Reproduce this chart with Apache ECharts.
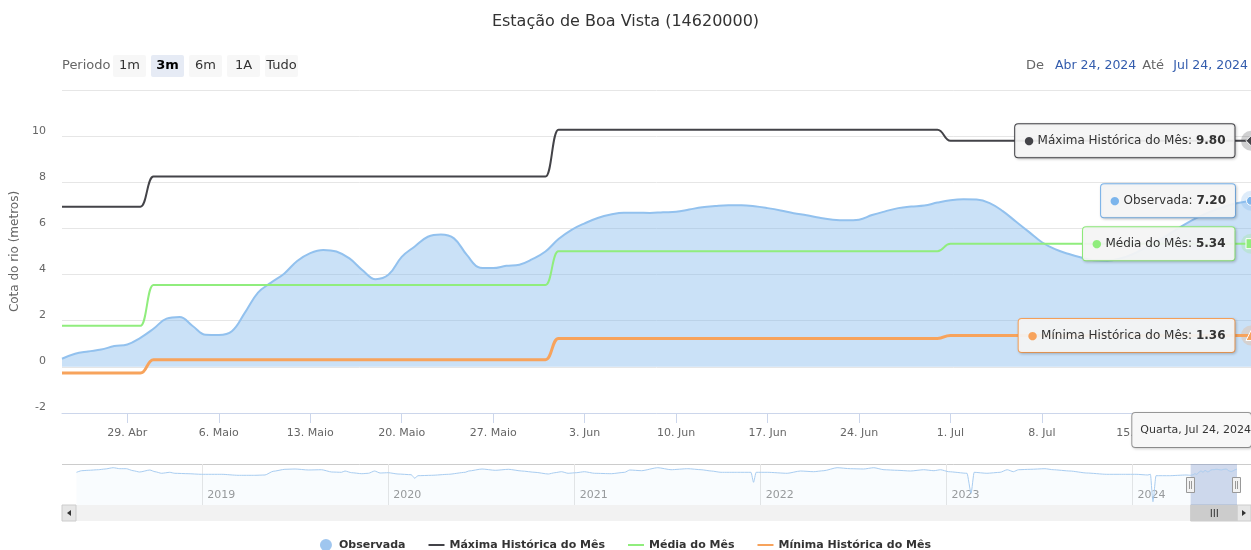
<!DOCTYPE html>
<html><head><meta charset="utf-8">
<script src="https://cdn.jsdelivr.net/npm/echarts@6/dist/echarts.min.js"></script>
<style>html,body{margin:0;padding:0;background:#fff}#c{width:1251px;height:550px}</style>
</head><body><div id="c"></div>
<script>
// ---------------- DATA ----------------
const chartTitle = 'Estação de Boa Vista (14620000)';
const startDay = [2024, 3, 24]; // 24 Apr 2024 (first daily value)
const observada = [0.35,0.57,0.67,0.75,0.90,0.97,1.26,1.65,2.09,2.16,1.77,1.39,1.38,1.54,2.35,3.22,3.65,4.04,4.59,4.93,
  5.07,5.00,4.70,4.19,3.80,4.00,4.77,5.22,5.64,5.74,5.57,4.84,4.30,4.28,4.38,4.43,4.67,5.00,5.54,5.94,
  6.22,6.45,6.60,6.68,6.68,6.67,6.70,6.72,6.82,6.92,6.97,7.00,7.00,6.96,6.88,6.78,6.66,6.57,6.46,6.38,
  6.35,6.38,6.58,6.74,6.88,6.95,6.99,7.12,7.22,7.26,7.25,7.10,6.75,6.30,5.85,5.40,5.10,4.90,4.74,4.62,
  4.60,4.70,4.90,5.20,5.50,5.85,6.20,6.50,6.75,6.95,7.10,7.20];
const months = ['2024-04','2024-05','2024-06','2024-07'];
const maximaMes = [6.94, 8.25, 10.28, 9.80];
const mediaMes  = [1.78, 3.55, 5.01, 5.34];
const minimaMes = [-0.27, 0.31, 1.23, 1.36];
const tickDates  = ['2024-04-29','2024-05-06','2024-05-13','2024-05-20','2024-05-27','2024-06-03','2024-06-10','2024-06-17','2024-06-24','2024-07-01','2024-07-08','2024-07-15','2024-07-22'];
const tickLabels = ['29. Abr','6. Maio','13. Maio','20. Maio','27. Maio','3. Jun','10. Jun','17. Jun','24. Jun','1. Jul','8. Jul','15. Jul','22. Jul'];
const navYears = ['2019-01-01','2020-01-01','2021-01-01','2022-01-01','2023-01-01','2024-01-01'];
const navYearLabels = ['2019','2020','2021','2022','2023','2024'];
const navStart = '2018-04-28';
const navDates = ['2018-04-29','2018-05-09','2018-05-22','2018-06-11','2018-06-24','2018-07-10','2018-07-23','2018-08-05','2018-08-18','2018-08-31','2018-09-20','2018-09-30','2018-10-13','2018-10-29','2018-11-08','2018-12-04','2018-12-30',
 '2019-02-08','2019-03-12','2019-04-14','2019-05-04','2019-05-20','2019-06-12','2019-07-02','2019-07-28','2019-08-23','2019-09-12','2019-10-01','2019-10-08','2019-10-21','2019-11-10','2019-11-23','2019-12-05','2019-12-16',
 '2020-01-01','2020-01-20','2020-02-15','2020-02-22','2020-02-28','2020-03-26','2020-04-28','2020-05-31','2020-06-07','2020-07-03','2020-07-29','2020-08-24','2020-09-19','2020-10-15','2020-11-10','2020-11-23','2020-12-06','2020-12-19',
 '2021-01-04','2021-01-20','2021-02-09','2021-03-14','2021-04-09','2021-04-19','2021-05-12','2021-06-13','2021-07-09','2021-08-11','2021-09-06','2021-09-26','2021-10-15','2021-11-17','2021-12-13','2021-12-18','2021-12-23',
 '2022-01-14','2022-02-22','2022-03-20','2022-04-15','2022-05-05','2022-05-31','2022-06-26','2022-07-22','2022-08-11','2022-08-31','2022-09-26','2022-10-22','2022-11-17','2022-12-07','2022-12-20',
 '2023-01-05','2023-02-10','2023-02-18','2023-02-24','2023-03-21','2023-04-16','2023-04-30','2023-05-12','2023-05-22','2023-06-14','2023-07-13','2023-07-29','2023-08-31','2023-10-03','2023-11-11','2023-12-07',
 '2024-01-08','2024-01-31','2024-02-05','2024-02-10','2024-02-16','2024-03-13','2024-04-15'];
const navValues = [3.69,5.48,5.93,6.60,7.39,8.85,7.73,7.73,5.48,4.02,6.27,4.36,2.57,3.69,2.57,2.12,1.44,
 1.44,0.32,0.32,0.66,4.81,7.05,7.39,6.27,6.60,4.02,3.69,5.14,3.24,2.12,2.57,5.14,2.90,
 3.24,1.77,0.99,-3.05,-0.13,0.32,1.44,3.69,5.14,7.39,5.93,7.05,5.14,3.69,1.77,3.24,4.36,2.57,
 3.24,4.36,2.57,2.12,3.69,6.27,5.48,8.85,6.60,7.73,6.60,5.14,3.69,3.69,3.69,-7.53,3.69,
 3.69,2.57,5.14,4.36,5.48,8.85,7.73,7.39,8.85,6.60,5.93,5.14,6.60,5.48,6.60,
 4.36,2.57,-19.9,3.69,2.57,3.69,6.60,4.36,6.60,7.05,7.73,6.60,5.14,2.90,1.44,1.44,
 1.44,0.66,1.44,-29.3,-0.13,-0.13,0.66];
const rangeButtons = ['1m','3m','6m','1A','Tudo'];
const selectedButton = '3m';
const weekdays = ['Domingo','Segunda','Terça','Quarta','Quinta','Sexta','Sábado'];
const monthAbbr = ['Jan','Fev','Mar','Abr','Mai','Jun','Jul','Ago','Set','Out','Nov','Dez'];
const seriesNames = ['Observada','Máxima Histórica do Mês','Média do Mês','Mínima Histórica do Mês'];

// ---------------- BUILD ----------------
const ts = s => { const p = s.split('-').map(Number); return Date.UTC(p[0], p[1]-1, p[2]); };
const days = observada.map((_, i) => Date.UTC(startDay[0], startDay[1], startDay[2] + i));
const monthKey = t => { const d = new Date(t); return d.getUTCFullYear() + '-' + String(d.getUTCMonth()+1).padStart(2,'0'); };
const stepData = arr => days.map(t => [t, arr[months.indexOf(monthKey(t))]]);
const obsData = days.map((t, i) => [t, observada[i]]);
const firstT = days[0], lastT = days[days.length-1];
const fmtDate = t => { const d = new Date(t); return monthAbbr[d.getUTCMonth()] + ' ' + d.getUTCDate() + ', ' + d.getUTCFullYear(); };
const tickTs = tickDates.map(ts);
const tickMap = {}; tickTs.forEach((t, i) => tickMap[t] = tickLabels[i]);
const yearTs = navYears.map(ts);
const yearMap = {}; yearTs.forEach((t, i) => yearMap[t] = navYearLabels[i]);
const navData = navDates.map((d, i) => [ts(d), navValues[i]]).concat(obsData);

const FONT = 'DejaVu Sans';
const colors = ['#7cb5ec', '#434348', '#90ed7d', '#f7a35c'];
const symbols = ['circle', 'diamond', 'rect', 'triangle'];
const lastVals = [observada[observada.length-1], maximaMes[maximaMes.length-1], mediaMes[mediaMes.length-1], minimaMes[minimaMes.length-1]];
const lineIcon = 'path://M0,0M0,5h16v2h-16zM16,12';

function tipMark(i) {
  const c = colors[i];
  return {
    silent: true, animation: false,
    data: [
      { coord: [lastT, lastVals[i]], symbol: 'circle', symbolSize: 20,
        itemStyle: { color: c, opacity: 0.25 }, label: { show: false } },
      { coord: [lastT, lastVals[i]], symbol: symbols[i], symbolSize: i === 0 ? 9 : 10,
        itemStyle: { color: c, borderColor: '#fff', borderWidth: 1, opacity: 1 },
        label: {
          show: true, position: 'left', distance: 11,
          formatter: '{d|●} {t|' + seriesNames[i] + ': }{b|' + lastVals[i].toFixed(2) + '}',
          backgroundColor: 'rgba(247,247,247,0.92)', borderColor: c, borderWidth: 1, borderRadius: 3,
          padding: [11, 9, 10, 9],
          shadowColor: 'rgba(0,0,0,0.18)', shadowBlur: 3, shadowOffsetX: 1, shadowOffsetY: 1,
          rich: {
            d: { color: c, fontSize: 11, fontFamily: FONT },
            t: { color: '#333', fontSize: 12, fontFamily: FONT },
            b: { color: '#333', fontSize: 12, fontWeight: 'bold', fontFamily: FONT }
          }
        } }
    ]
  };
}

const chart = echarts.init(document.getElementById('c'), null, { renderer: 'canvas' });

const option = {
  animation: false,
  backgroundColor: '#fff',
  textStyle: { fontFamily: FONT },
  title: { text: chartTitle, left: 'center', top: 9,
    textStyle: { fontSize: 16, fontWeight: 'normal', color: '#333', fontFamily: FONT } },
  legend: {
    top: 534, left: 'center', itemGap: 23, itemWidth: 16, itemHeight: 12,
    textStyle: { fontSize: 11, fontWeight: 'bold', color: '#333', fontFamily: FONT },
    data: [
      { name: seriesNames[0], icon: 'circle', itemStyle: { color: '#9fc6ef' } },
      { name: seriesNames[1], icon: lineIcon, itemStyle: { color: colors[1] } },
      { name: seriesNames[2], icon: lineIcon, itemStyle: { color: colors[2] } },
      { name: seriesNames[3], icon: lineIcon, itemStyle: { color: colors[3] } }
    ]
  },
  grid: [
    { left: 62, right: 0, top: 90, height: 323 },
    { left: 76, right: 14, top: 464, height: 41 }
  ],
  xAxis: [
    { type: 'value', gridIndex: 0, min: firstT, max: lastT,
      axisLine: { show: true, onZero: false, lineStyle: { color: '#ccd6eb', width: 1 } },
      axisTick: { show: true, length: 10, customValues: tickTs, lineStyle: { color: '#ccd6eb' } },
      axisLabel: { customValues: tickTs, formatter: v => tickMap[v] || '', color: '#666', fontSize: 11, margin: 15, fontFamily: FONT, hideOverlap: false },
      splitLine: { show: false },
      axisPointer: {
        show: true, status: 'show', value: lastT, triggerTooltip: false, snap: false,
        type: 'line', lineStyle: { color: '#cccccc', width: 1, type: 'solid' },
        label: {
          show: true, margin: 0,
          formatter: p => { const d = new Date(p.value); return weekdays[d.getUTCDay()] + ', ' + fmtDate(p.value); },
          backgroundColor: '#f7f7f7', borderColor: '#999', borderWidth: 1, borderRadius: 3,
          color: '#333', fontSize: 11, fontFamily: FONT, padding: [12, 0, 11, 8],
          shadowBlur: 3, shadowColor: 'rgba(0,0,0,0.15)', shadowOffsetX: 1, shadowOffsetY: 1
        }
      }
    },
    { type: 'value', gridIndex: 1, min: ts(navStart), max: lastT,
      axisLine: { show: false, onZero: false },
      axisTick: { show: true, inside: true, length: 41, customValues: yearTs, lineStyle: { color: '#e6e6e6' } },
      axisLabel: { show: true, inside: true, customValues: yearTs, formatter: v => yearMap[v] || '', align: 'left', padding: [0, 0, 0, 5],
        margin: 4, color: '#999', fontSize: 11, fontFamily: FONT },
      splitLine: { show: false }
    }
  ],
  yAxis: [
    { type: 'value', gridIndex: 0, min: -2, max: 12, interval: 2,
      name: 'Cota do rio (metros)', nameLocation: 'middle', nameGap: 40, nameRotate: 90,
      nameTextStyle: { color: '#666', fontSize: 12, fontFamily: FONT },
      axisLine: { show: false }, axisTick: { show: false },
      axisLabel: { color: '#666', fontSize: 11, margin: 16, showMaxLabel: false, verticalAlign: 'bottom', fontFamily: FONT },
      splitLine: { show: true, lineStyle: { color: '#e6e6e6', width: 1 } }
    },
    { type: 'value', gridIndex: 1, min: -33, max: 13, show: false, splitLine: { show: false } }
  ],
  series: [
    { name: seriesNames[0], type: 'line', xAxisIndex: 0, yAxisIndex: 0, data: obsData,
      smooth: 0.4, symbol: 'none', z: 2,
      itemStyle: { color: '#7cb5ec' },
      lineStyle: { color: '#92c1ee', width: 2 },
      areaStyle: { color: 'rgba(124,181,236,0.58)', origin: 0 },
      markPoint: tipMark(0) },
    { name: seriesNames[1], type: 'line', data: stepData(maximaMes), smooth: 0.5, smoothMonotone: 'x', symbol: 'none', z: 3,
      itemStyle: { color: colors[1] }, lineStyle: { color: colors[1], width: 2 }, markPoint: tipMark(1) },
    { name: seriesNames[2], type: 'line', data: stepData(mediaMes), smooth: 0.5, smoothMonotone: 'x', symbol: 'none', z: 3,
      itemStyle: { color: colors[2] }, lineStyle: { color: colors[2], width: 2 }, markPoint: tipMark(2) },
    { name: seriesNames[3], type: 'line', data: stepData(minimaMes), smooth: 0.5, smoothMonotone: 'x', symbol: 'none', z: 3,
      itemStyle: { color: colors[3] }, lineStyle: { color: colors[3], width: 3 }, markPoint: tipMark(3) },
    { name: 'navigator', type: 'line', xAxisIndex: 1, yAxisIndex: 1, data: navData, smooth: 0.2, smoothMonotone: 'x',
      symbol: 'none', silent: true,
      lineStyle: { color: '#a9cdf1', width: 1 },
      areaStyle: { color: 'rgba(124,181,236,0.06)', origin: 'start' },
      markArea: { silent: true, itemStyle: { color: 'rgba(102,133,194,0.3)' },
        data: [[{ xAxis: firstT }, { xAxis: lastT }]] } }
  ]
};
chart.setOption(option);

// ---- decorations: range selector, date inputs, navigator handles, scrollbar ----
const g = [];
g.push({ type: 'text', left: 62, top: 59, style: { text: 'Periodo', fill: '#666', font: '13px ' + FONT } });
const btnX = [113, 151, 189, 227, 265];
rangeButtons.forEach((b, i) => {
  const sel = b === selectedButton;
  g.push({ type: 'rect', shape: { x: btnX[i], y: 55, width: 33, height: 22, r: 2 }, style: { fill: sel ? '#e6ebf5' : '#f7f7f7' } });
  g.push({ type: 'text', x: btnX[i] + 16.5, y: 66, style: { text: b, fill: sel ? '#000' : '#333', font: (sel ? 'bold ' : '') + '13px ' + FONT, align: 'center', verticalAlign: 'middle' } });
});
g.push({ type: 'text', x: 1044, y: 66, style: { text: 'De', fill: '#666', font: '13px ' + FONT, align: 'right', verticalAlign: 'middle' } });
g.push({ type: 'text', x: 1055, y: 66, style: { text: fmtDate(firstT), fill: '#335cad', font: '12.5px ' + FONT, align: 'left', verticalAlign: 'middle' } });
g.push({ type: 'text', x: 1164, y: 66, style: { text: 'Até', fill: '#666', font: '13px ' + FONT, align: 'right', verticalAlign: 'middle' } });
g.push({ type: 'text', x: 1248, y: 66, style: { text: fmtDate(lastT), fill: '#335cad', font: '12.5px ' + FONT, align: 'right', verticalAlign: 'middle' } });

const h0 = chart.convertToPixel({ xAxisIndex: 1 }, firstT);
const h1 = chart.convertToPixel({ xAxisIndex: 1 }, lastT);
g.push({ type: 'line', shape: { x1: 62, y1: 464.5, x2: 1251, y2: 464.5 }, style: { stroke: '#cccccc', lineWidth: 1 } });
g.push({ type: 'rect', shape: { x: 62, y: 505, width: 1189, height: 16 }, style: { fill: '#f2f2f2' } });
g.push({ type: 'rect', shape: { x: 62, y: 505, width: 14, height: 16 }, style: { fill: '#e6e6e6', stroke: '#cccccc', lineWidth: 1 } });
g.push({ type: 'polygon', shape: { points: [[67, 513], [71, 510], [71, 516]] }, style: { fill: '#333' } });
g.push({ type: 'rect', shape: { x: 1237, y: 505, width: 14, height: 16 }, style: { fill: '#e6e6e6', stroke: '#cccccc', lineWidth: 1 } });
g.push({ type: 'polygon', shape: { points: [[1246, 513], [1242, 510], [1242, 516]] }, style: { fill: '#333' } });
g.push({ type: 'rect', shape: { x: h0, y: 505, width: h1 - h0, height: 16 }, style: { fill: '#cccccc', stroke: '#cccccc' } });
const mid = (h0 + h1) / 2;
[-3, 0, 3].forEach(o => g.push({ type: 'line', shape: { x1: mid + o + 0.5, y1: 509, x2: mid + o + 0.5, y2: 517 }, style: { stroke: '#333', lineWidth: 1 } }));
[h0, h1].forEach(h => {
  g.push({ type: 'rect', z: 100, shape: { x: Math.round(h) - 4.5, y: 477.5, width: 8, height: 15 }, style: { fill: '#f2f2f2', stroke: '#999999', lineWidth: 1 } });
  g.push({ type: 'line', z: 101, shape: { x1: Math.round(h) - 1.5, y1: 481, x2: Math.round(h) - 1.5, y2: 489 }, style: { stroke: '#999', lineWidth: 1 } });
  g.push({ type: 'line', z: 101, shape: { x1: Math.round(h) + 0.5, y1: 481, x2: Math.round(h) + 0.5, y2: 489 }, style: { stroke: '#999', lineWidth: 1 } });
});
chart.setOption({ graphic: g });
</script>
</body></html>
